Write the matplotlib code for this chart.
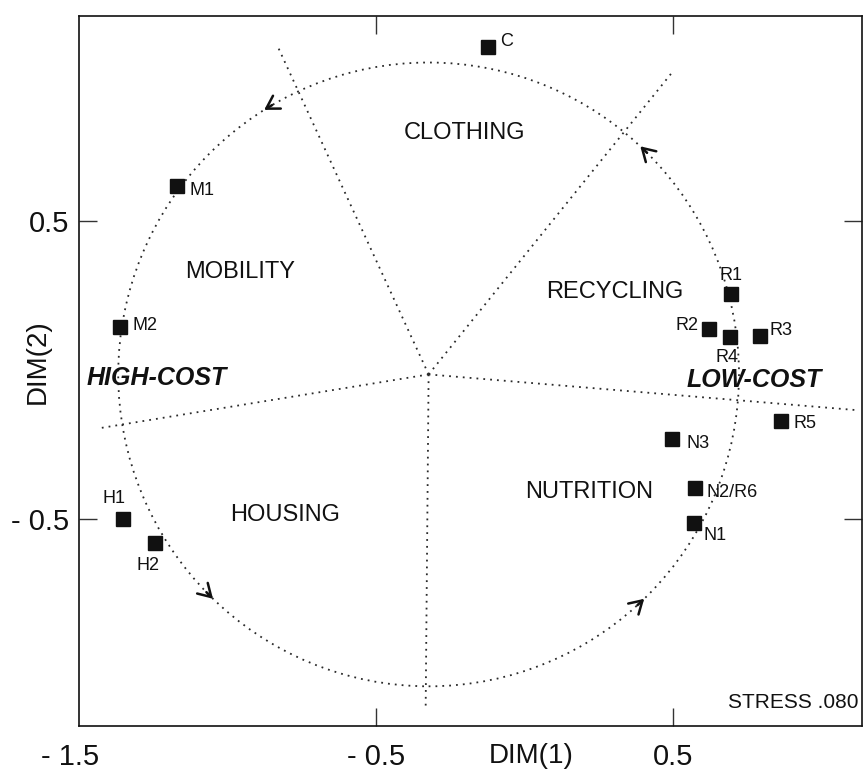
import numpy as np
import matplotlib.pyplot as plt
from matplotlib.patches import Circle

plt.rcParams['font.family'] = ['Liberation Sans', 'DejaVu Sans']

# MDS configuration, values
items = ['C', 'M1', 'M2', 'H1', 'H2', 'R1', 'R2', 'R3', 'R4', 'R5', 'N3', 'N2/R6', 'N1']
dim1 = [-0.123, -1.170, -1.362, -1.352, -1.244, 0.695, 0.621, 0.794, 0.692, 0.863, 0.499, 0.576, 0.572]
dim2 = [1.082, 0.616, 0.144, -0.499, -0.579, 0.254, 0.137, 0.116, 0.112, -0.170, -0.232, -0.394, -0.511]

regions = ['CLOTHING', 'MOBILITY', 'RECYCLING', 'HOUSING', 'NUTRITION']
region_x = [-0.200, -0.958, 0.305, -0.806, 0.220]
region_y = [0.794, 0.328, 0.261, -0.486, -0.409]

# sector boundaries from the centre, circumplex circle
center_x, center_y = -0.322, -0.014
radius = 1.045
boundary_x = [-0.827, 0.498, 1.123, -0.332, -1.429]
boundary_y = [1.078, 0.998, -0.134, -1.139, -0.194]
arrow_angles = [47, 122, 226, 314]

# label offsets in points (ha, dx, dy)
label_pos = {
    'C': ('left', 9, 4), 'M1': ('left', 9, -3), 'M2': ('left', 9, 1),
    'H1': ('center', -6, 15), 'H2': ('center', -5, -16),
    'R1': ('center', 0, 13.5), 'R2': ('right', -7, 3), 'R3': ('left', 7, 3.5),
    'R4': ('center', -2, -15), 'R5': ('left', 9, -1.5), 'N3': ('left', 10, -3),
    'N2/R6': ('left', 8, -3), 'N1': ('left', 7, -9),
}

fig = plt.figure(figsize=(8.67, 7.74), dpi=100)
ax = fig.add_axes([0.0908, 0.062, 0.9034, 0.917])
ax.set_xlim(-1.5, 1.137)
ax.set_ylim(-1.192, 1.186)

dot = dict(color='#2a2a2a', lw=1.3, linestyle=(0, (1, 2.8)))
ax.add_patch(Circle((center_x, center_y), radius, fill=False, **dot))
for bx, by in zip(boundary_x, boundary_y):
    ax.plot([center_x, bx], [center_y, by], **dot)

# counter-clockwise chevrons on the circle
for a in arrow_angles:
    t = np.radians(a)
    t0 = t - 0.03
    ax.annotate('', xy=(center_x + radius * np.cos(t), center_y + radius * np.sin(t)),
                xytext=(center_x + radius * np.cos(t0), center_y + radius * np.sin(t0)),
                arrowprops=dict(arrowstyle='->,head_length=0.5,head_width=0.3', lw=1.8,
                                color='#111111', shrinkA=0, shrinkB=0, mutation_scale=18))

ax.plot(dim1, dim2, 's', color='#111111', markersize=10, linestyle='none')
for name, x, y in zip(items, dim1, dim2):
    ha, dx, dy = label_pos[name]
    ax.annotate(name, (x, y), xytext=(dx, dy), textcoords='offset points',
                ha=ha, va='center', fontsize=13, color='#111111')

for name, x, y in zip(regions, region_x, region_y):
    ax.text(x, y, name, ha='center', va='center', fontsize=17, color='#111111')

ax.text(-1.237, -0.027, 'HIGH-COST', ha='center', va='center', fontsize=18,
        fontweight='bold', fontstyle='italic', color='#111111')
ax.text(0.773, -0.033, 'LOW-COST', ha='center', va='center', fontsize=18,
        fontweight='bold', fontstyle='italic', color='#111111')
ax.text(0.995, 0.02, 'STRESS .080', transform=ax.transAxes, ha='right', va='bottom',
        fontsize=15, color='#111111')

for s in ax.spines.values():
    s.set_linewidth(1.2)
    s.set_color('#111111')

ax.set_xticks([-0.5, 0.5])
ax.set_xticklabels(['- 0.5', '0.5'])
ax.set_yticks([-0.5, 0.5])
ax.set_yticklabels(['- 0.5', '0.5'])
ax.tick_params(direction='in', length=13, width=1.0, color='#333333',
               top=True, right=True, labelsize=21, labelcolor='#111111')
ax.tick_params(axis='x', pad=12)
ax.tick_params(axis='y', pad=7)

ax.annotate('- 1.5', xy=(-1.5, 0), xycoords=('data', 'axes fraction'),
            xytext=(-6, -12), textcoords='offset points', ha='center', va='top',
            fontsize=21, color='#111111')
ax.annotate('DIM(1)', xy=(0.025, 0), xycoords=('data', 'axes fraction'),
            xytext=(0, -12), textcoords='offset points', ha='center', va='top',
            fontsize=20, color='#111111')
fig.text(38 / 867, 1 - 362 / 774, 'DIM(2)', rotation=90, ha='center', va='center',
         fontsize=20, color='#111111')

fig.savefig('out.png', dpi=100)
